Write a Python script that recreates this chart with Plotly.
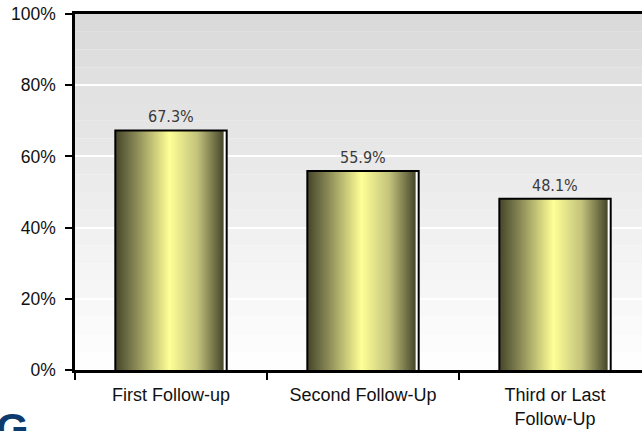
import plotly.graph_objects as go

# Follow-up response rates
categories = ["First Follow-up", "Second Follow-Up", "Third or Last<br>Follow-Up"]
rates = [67.3, 55.9, 48.1]
y_ticks = [0, 20, 40, 60, 80, 100]
y_tick_text = ["0%", "20%", "40%", "60%", "80%", "100%"]

BAR_W = 0.58      # bar width in category units
GAP = 0.016       # thin light strip before the right-hand edge line
bar_scale = [[0, "#45452a"], [0.2, "#8c8c58"], [0.5, "#ffff96"],
             [0.76, "#c2c27c"], [1, "#46462b"]]

pos = list(range(len(categories)))
fig = go.Figure()

# white backing under each bar
bx, by = [], []
for p, v in zip(pos, rates):
    l, r = p - BAR_W / 2, p + BAR_W / 2
    bx += [l, l, r, r, l, None]
    by += [0, v, v, 0, 0, None]
fig.add_trace(go.Scatter(x=bx, y=by, fill="toself", fillcolor="white",
                         mode="none", hoverinfo="skip", showlegend=False))

# cylinder-style gradient body of each bar
for p, v in zip(pos, rates):
    l, r = p - BAR_W / 2, p + BAR_W / 2 - GAP
    fig.add_trace(go.Scatter(
        x=[l, l, r, r, l], y=[0, v, v, 0, 0], fill="toself",
        fillgradient=dict(type="horizontal", colorscale=bar_scale),
        mode="none", hoverinfo="skip", showlegend=False))

# black outline of each bar
ox, oy = [], []
for p, v in zip(pos, rates):
    l, r = p - BAR_W / 2, p + BAR_W / 2
    ox += [l, l, r, r, None]
    oy += [0, v, v, 0, None]
fig.add_trace(go.Scatter(x=ox, y=oy, mode="lines", line=dict(color="black", width=2),
                         hoverinfo="skip", showlegend=False))

# value labels
for p, v in zip(pos, rates):
    fig.add_annotation(x=p, y=v, text=f"{v:.1f}%", showarrow=False,
                       yanchor="bottom", yshift=2,
                       font=dict(family="DejaVu Sans Condensed, sans-serif",
                                 size=16, color="#3a3a3a"))

# soft grey-to-white backdrop, drawn under the gridlines
N_BANDS = 20
for k in range(N_BANDS):
    y0 = 100 * k / N_BANDS
    y1 = 100 * (k + 1) / N_BANDS
    g = round(255 - 0.38 * (y0 + y1) / 2)
    fig.add_shape(type="rect", xref="paper", yref="y", x0=0, x1=1, y0=y0, y1=y1,
                  fillcolor=f"rgb({g},{g},{g})", line=dict(width=0), layer="below")

# corner logo mark
fig.add_annotation(xref="paper", yref="paper", x=-0.142, y=-0.093,
                   xanchor="left", yanchor="top", text="<b>G</b>", showarrow=False,
                   font=dict(family="Liberation Sans, Arial, sans-serif", size=42, color="#0d3b6e"))

axis_font = dict(family="Liberation Sans, Arial, sans-serif", size=18, color="#111111")

fig.update_layout(
    width=642, height=431,
    margin=dict(l=75, r=0, t=14, b=61),
    paper_bgcolor="white", plot_bgcolor="rgba(0,0,0,0)",
    font=axis_font,
    xaxis=dict(
        range=[-0.5, 2.453], tickmode="array", tickvals=pos, ticktext=categories,
        ticks="", showgrid=False, zeroline=False,
        showline=True, linecolor="black", linewidth=2.5, mirror=True,
        tickfont=dict(size=18), ticklabelstandoff=7,
        minor=dict(tickmode="array", tickvals=[-0.5, 0.5, 1.5], ticks="outside",
                   ticklen=7, tickwidth=2, tickcolor="black", showgrid=False),
    ),
    yaxis=dict(
        range=[0, 100], tickmode="array", tickvals=y_ticks, ticktext=y_tick_text,
        ticks="outside", ticklen=7, tickwidth=2, tickcolor="black",
        showgrid=True, gridcolor="white", gridwidth=1.5, zeroline=False,
        showline=True, linecolor="black", linewidth=2.5,
        tickfont=dict(size=17.5), ticklabelstandoff=6,
    ),
)

fig.write_html("out.html")
